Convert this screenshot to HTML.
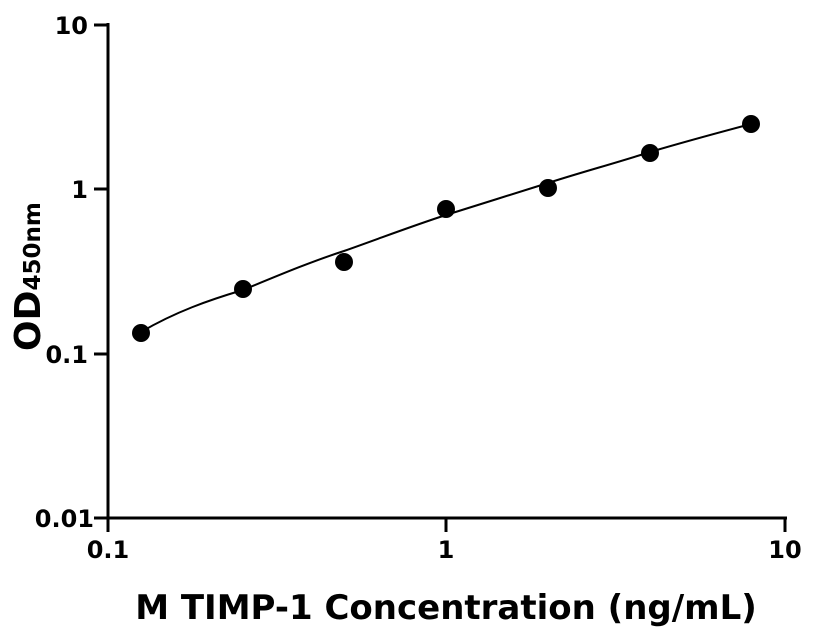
<!DOCTYPE html>
<html><head><style>body{margin:0;background:#fff}svg{display:block}</style></head><body>
<svg width="816" height="640" xmlns="http://www.w3.org/2000/svg" font-family="DejaVu Sans, Liberation Sans, sans-serif" font-weight="bold">
<g stroke="#000" stroke-width="3" fill="none">
<line x1="108" y1="23" x2="108" y2="532"/>
<line x1="94" y1="518" x2="787" y2="518"/>
<line x1="94" y1="25" x2="108" y2="25"/>
<line x1="94" y1="189" x2="108" y2="189"/>
<line x1="94" y1="354" x2="108" y2="354"/>
<line x1="446" y1="518" x2="446" y2="532"/>
<line x1="785" y1="518" x2="785" y2="532"/>
</g>
<g font-size="24" text-anchor="end">
<text x="88" y="34">10</text>
<text x="88" y="198">1</text>
<text x="88" y="363">0.1</text>
<text x="94" y="527">0.01</text>
</g>
<g font-size="24" text-anchor="middle">
<text x="108" y="558">0.1</text>
<text x="446" y="558">1</text>
<text x="785" y="558">10</text>
</g>
<text x="446" y="619" font-size="34" text-anchor="middle">M TIMP-1 Concentration (ng/mL)</text>
<text transform="translate(40,351) rotate(-90)" font-size="36">OD<tspan font-size="23">450nm</tspan></text>
<path d="M141,332 C175,312 209,300 243,290 C277,276 310,262 344,251 C378,239 412,226 446,215 C480,204 514,194 548,183 C582,172 616,163 650,152 C684,142 717,133 751,124" stroke="#000" stroke-width="2" fill="none"/>
<g fill="#000">
<circle cx="141" cy="333" r="9"/>
<circle cx="243" cy="289" r="9"/>
<circle cx="344" cy="262" r="9"/>
<circle cx="446" cy="209" r="9"/>
<circle cx="548" cy="188" r="9"/>
<circle cx="650" cy="153" r="9"/>
<circle cx="751" cy="124" r="9"/>
</g>
</svg>
</body></html>
